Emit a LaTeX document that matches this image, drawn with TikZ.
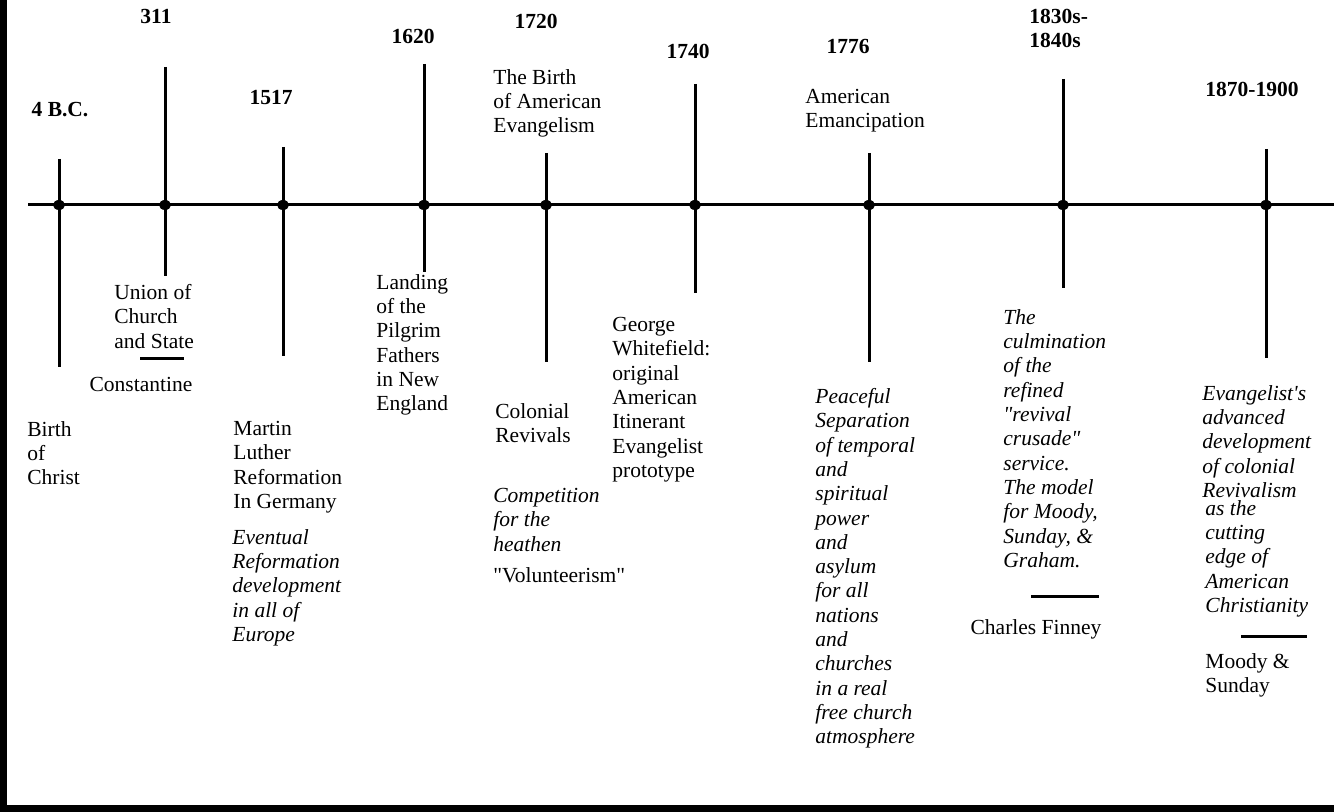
\documentclass[tikz,border=0pt]{standalone}
\usepackage{fontspec}
\setmainfont{Liberation Serif}
\usetikzlibrary{positioning,shapes.geometric}
\def\fs{\fontsize{10.75}{12.15}\selectfont}
\tikzstyle{txt} = [inner sep=0pt, anchor=north west, yshift=8.505pt, align=left, font=\fs, execute at begin node=\strut]
\tikzstyle{note} = [txt, font=\fs\itshape]
\tikzstyle{year} = [inner sep=0pt, anchor=base, font=\fs\bfseries]
\tikzstyle{person} = [inner sep=0pt, anchor=base, font=\fs]
\tikzstyle{tick} = [line width=1.5pt]
\tikzstyle{dot} = [ellipse, fill=black, inner sep=0pt, minimum width=6pt, minimum height=5pt]

\begin{document}
\begin{tikzpicture}[x=0.5pt, y=-0.5pt]
\useasboundingbox (0,0) rectangle (1334,812);
% frame
\draw [line width=3.5pt] (3.5,0) -- (3.5,808.5) -- (1334,808.5);

% time line
\coordinate (start) at (28,205);
\coordinate (end) at (1334,205);
\draw [tick] (start) -- (end);

% ticks
\coordinate (top1) at (59,159);   \coordinate (bot1) at (59,367);
\coordinate (top2) at (165,67);   \coordinate (bot2) at (165,276);
\coordinate (top3) at (283,147);  \coordinate (bot3) at (283,356);
\coordinate (top4) at (424,64);   \coordinate (bot4) at (424,272);
\coordinate (top5) at (546,153);  \coordinate (bot5) at (546,362);
\coordinate (top6) at (695,84);   \coordinate (bot6) at (695,293);
\coordinate (top7) at (869,153);  \coordinate (bot7) at (869,362);
\coordinate (top8) at (1063,79);  \coordinate (bot8) at (1063,288);
\coordinate (top9) at (1266,149); \coordinate (bot9) at (1266,358);
\foreach \i in {1,...,9} {
  \draw [tick] (top\i) -- (bot\i);
  \node (dot\i) [dot] at (top\i |- start) {};
}

% years
\node (bc) [year] at (60,117) {4 B.C.};
\node (y311) [year] at (156,24) {311};
\node (y1517) [year] at (271,105) {1517};
\node (y1620) [year] at (413,44) {1620};
\node (y1720) [year] at (536,29) {1720};
\node (y1740) [year] at (688,59) {1740};
\node (y1776) [year] at (848,54) {1776};
\node (y1830) [txt, font=\fs\bfseries] at (1029,26) {1830s-\\1840s};
\node (y1870) [year] at (1252,97) {1870-1900};

% events
\node (birth) [txt] at (27,438) {Birth\\of\\Christ};
\node (union) [txt] at (114,301) {Union of\\Church\\and State};
\node (const) [person] at (141,392) {Constantine};
\node (luther) [txt] at (233,438) {Martin\\Luther\\Reformation\\In Germany};
\node (europe) [note] at (232,546) {Eventual\\Reformation\\development\\in all of\\Europe};
\node (pilgrim) [txt] at (376,291) {Landing\\of the\\Pilgrim\\Fathers\\in New\\England};
\node (evbirth) [txt] at (493,86) {The Birth\\of American\\Evangelism};
\node (colonial) [txt] at (495,420) {Colonial\\Revivals};
\node (heathen) [note] at (493,505) {Competition\\for the\\heathen};
\node (volunt) [person, anchor=base west] at (493,582) {\textquotedbl Volunteerism\textquotedbl};
\node (george) [txt] at (612,334) {George\\Whitefield:\\original\\American\\Itinerant\\Evangelist\\prototype};
\node (emanc) [txt] at (805,106) {American\\Emancipation};
\node (peace) [note] at (815,405) {Peaceful\\Separation\\of temporal\\and\\spiritual\\power\\and\\asylum\\for all\\nations\\and\\churches\\in a real\\free church\\atmosphere};
\node (culm) [note] at (1003,326) {The\\culmination\\of the\\refined\\\textquotedbl revival\\crusade\textquotedbl\\service.\\The model\\for Moody,\\Sunday, \&\\Graham.};
\node (finney) [person] at (1036,634) {Charles Finney};
\node (advanced) [note] at (1202,402) {Evangelist\textquotesingle s\\advanced\\development\\of colonial\\Revivalism};
\node (cutting) [note] at (1205,517) {as the\\cutting\\edge of\\American\\Christianity};
\node (moody) [txt] at (1205,670) {Moody \&\\Sunday};

% name rules
\draw [tick] (140,359) -- (184,359);
\draw [tick] (1031,597) -- (1099,597);
\draw [tick] (1241,636) -- (1307,636);
\end{tikzpicture}
\end{document}
